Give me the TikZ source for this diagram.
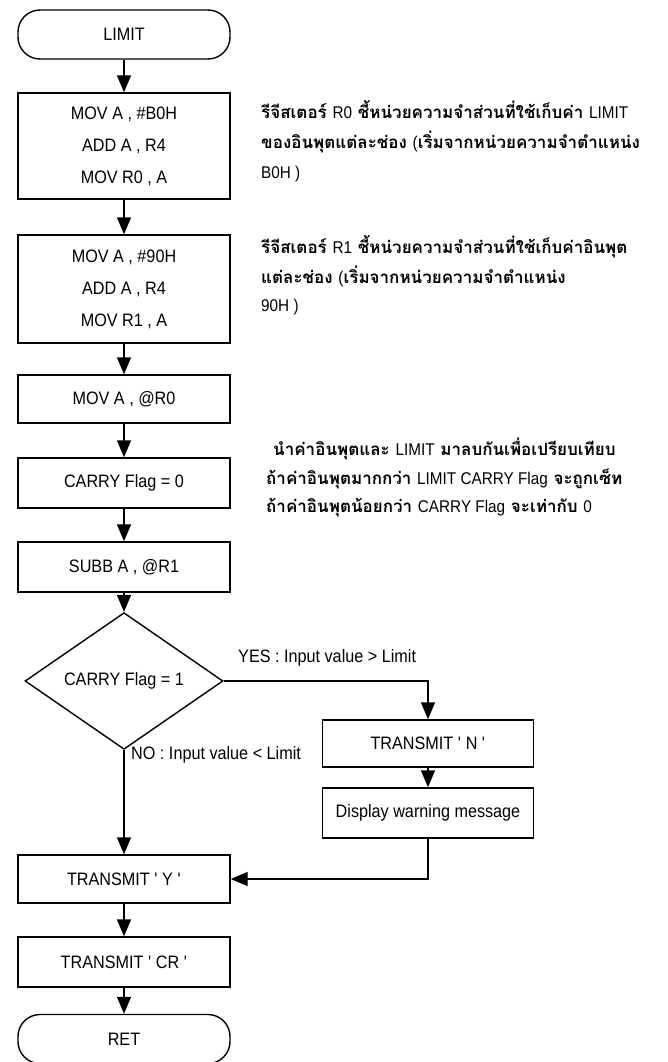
\documentclass[tikz,border=0pt]{standalone}
\usepackage{fontspec}
\setmainfont{Liberation Sans}[FakeStretch=0.9]
\newfontfamily\latinfont{Liberation Sans}[FakeStretch=0.9]
\newfontfamily\thaifont[Script=Thai]{Loma}
\newcommand{\lat}[1]{{\latinfont\mdseries #1}}
\newcommand{\sq}{\textquotesingle}
\usetikzlibrary{arrows.meta,shapes.geometric}

\begin{document}
\begin{tikzpicture}[x=1pt,y=-1pt,
  every node/.style={font=\fontsize{18}{32}\selectfont},
  stroke/.style={line width=1.4pt},
  box/.style={draw, stroke, minimum width=212pt, inner sep=0pt, align=center},
  term/.style={draw, stroke, rounded corners=22pt, minimum width=212pt, minimum height=49pt, inner sep=0pt},
  dia/.style={draw, stroke, diamond, minimum width=198pt, minimum height=106pt, inner sep=0pt},
  arr/.style={stroke, -{Triangle[width=14pt,length=17pt]}},
  note/.style={anchor=west, inner sep=0pt, font=\thaifont\bfseries\fontsize{17}{20}\selectfont},
  lbl/.style={anchor=west, inner sep=0pt}
]
\useasboundingbox (0,0) rectangle (668,1062);

% main column
\node[term] (limit) at (124,34.5) {LIMIT};
\node[box, minimum height=106pt] (b1) at (124,146) {MOV A , \#B0H\\ADD A , R4\\MOV R0 , A};
\node[box, minimum height=108pt] (b2) at (124,289) {MOV A , \#90H\\ADD A , R4\\MOV R1 , A};
\node[box, minimum height=48pt] (b3) at (124,399) {MOV A , @R0};
\node[box, minimum height=50pt] (b4) at (124,483) {CARRY Flag = 0};
\node[box, minimum height=50pt] (b5) at (124,567) {SUBB A , @R1};
\node[dia] (d) at (124,681) {CARRY Flag = 1};
\node[box, minimum height=48pt] (ty) at (124,879) {TRANSMIT \sq\ Y \sq};
\node[box, minimum height=50pt] (tcr) at (124,962) {TRANSMIT \sq\ CR \sq};
\node[term] (ret) at (124,1039) {RET};

% YES branch
\node[box, minimum width=211pt, minimum height=47pt] (tn) at (428,743.5) {TRANSMIT \sq\ N \sq};
\node[box, minimum width=211pt, minimum height=50pt] (dw) at (428,813) {Display warning message};

% branch labels
\node[lbl] (yes) at (238,658) {YES : Input value > Limit};
\node[lbl] (no) at (131,755) {NO : Input value < Limit};

% connectors
\draw[arr] (limit) -- (b1);
\draw[arr] (b1) -- (b2);
\draw[arr] (b2) -- (b3);
\draw[arr] (b3) -- (b4);
\draw[arr] (b4) -- (b5);
\draw[arr] (b5) -- (d);
\draw[arr] (d.east) -| (tn.north);
\draw[arr] (tn) -- (dw);
\draw[arr] (dw.south) |- (ty.east);
\draw[arr] (d.south) -- (ty.north);
\draw[arr] (ty) -- (tcr);
\draw[arr] (tcr) -- (ret);

% side notes
\node[note] (n1a) at (261,110) {รีจีสเตอร์ \lat{R0} ชี้หน่วยความจำส่วนที่ใช้เก็บค่า \lat{LIMIT}};
\node[note] (n1b) at (261,142) {ของอินพุตแต่ละช่อง \lat{(}เริ่มจากหน่วยความจำตำแหน่ง};
\node[note] (n1c) at (261,174) {\lat{B0H )}};
\node[note] (n2a) at (261,247) {รีจีสเตอร์ \lat{R1} ชี้หน่วยความจำส่วนที่ใช้เก็บค่าอินพุต};
\node[note] (n2b) at (261,277) {แต่ละช่อง \lat{(}เริ่มจากหน่วยความจำตำแหน่ง};
\node[note] (n2c) at (261,307) {\lat{90H )}};
\node[note] (n3a) at (273,449) {นำค่าอินพุตและ \lat{LIMIT} มาลบกันเพื่อเปรียบเทียบ};
\node[note] (n3b) at (266,479) {ถ้าค่าอินพุตมากกว่า \lat{LIMIT CARRY Flag} จะถูกเซ็ท};
\node[note] (n3c) at (266,508) {ถ้าค่าอินพุตน้อยกว่า \lat{CARRY Flag} จะเท่ากับ \lat{0}};
\end{tikzpicture}
\end{document}
